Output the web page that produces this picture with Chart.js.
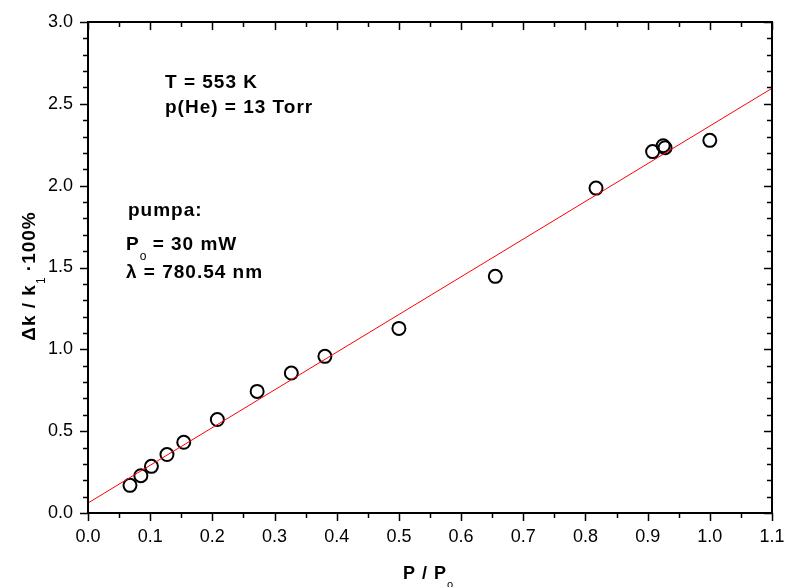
<!DOCTYPE html>
<html lang="en">
<head>
  <meta charset="UTF-8">
  <title>Δk / k1 vs P / Po</title>
  <script src="https://cdn.jsdelivr.net/npm/chart.js"></script>
  <style>
    body { margin: 0; background: #fff; }
  </style>
</head>
<body>
  <canvas id="pumpChart" width="785" height="587"></canvas>
  <script>
    // measured points: relative pump power and Δk/k1·100%
    const ratio = [0.0675, 0.085, 0.102, 0.127, 0.154, 0.208, 0.272, 0.327, 0.381, 0.5, 0.655, 0.817, 0.908, 0.925, 0.928, 1.0];
    const dk = [0.169, 0.228, 0.285, 0.357, 0.432, 0.571, 0.743, 0.855, 0.957, 1.128, 1.446, 1.985, 2.208, 2.244, 2.232, 2.277];

    // ends of the linear fit
    const fitX = [0, 1.1];
    const fitY = [0.061, 2.595];

    const FONT = 'Arial, "Liberation Sans", sans-serif';

    // draws text with subscript parts, left aligned at baseline y, returns width
    function richText(ctx, x, y, parts, size, draw = true) {
      let cx = x;
      parts.forEach(([txt, sub]) => {
        ctx.font = sub ? `${Math.round(size * 0.62)}px ${FONT}` : `bold ${size}px ${FONT}`;
        ctx.letterSpacing = sub ? '0px' : '1px';
        if (draw) ctx.fillText(txt, cx, y + (sub ? size * 0.5 : 0));
        cx += ctx.measureText(txt).width;
      });
      ctx.letterSpacing = '0px';
      return cx - x;
    }

    const frame = {
      id: 'frame',
      afterDraw(chart) {
        const { ctx, chartArea: a, scales: { x, y } } = chart;
        ctx.save();
        ctx.strokeStyle = '#000';
        ctx.lineWidth = 1.5;
        ctx.beginPath();
        for (let i = 0; i <= 22; i++) {
          const px = Math.round(x.getPixelForValue(i * 0.05)) + 0.5;
          const len = i % 2 === 0 ? 8 : 5;
          ctx.moveTo(px, a.bottom); ctx.lineTo(px, a.bottom + len);
          ctx.moveTo(px, a.top); ctx.lineTo(px, a.top + len);
        }
        for (let i = 0; i <= 30; i++) {
          const py = Math.round(y.getPixelForValue(i * 0.1)) + 0.5;
          const len = i % 5 === 0 ? 8 : 5;
          ctx.moveTo(a.left, py); ctx.lineTo(a.left - len, py);
          ctx.moveTo(a.right, py); ctx.lineTo(a.right - len, py);
        }
        ctx.stroke();
        ctx.lineWidth = 2;
        ctx.strokeRect(a.left, a.top, a.right - a.left, a.bottom - a.top);

        ctx.fillStyle = '#000';
        ctx.textAlign = 'left';
        ctx.textBaseline = 'alphabetic';

        // x title
        const xt = [['P / P', false], ['o', true]];
        const xw = richText(ctx, 0, 0, xt, 18, false);
        richText(ctx, (a.left + a.right) / 2 - xw / 2 - 2, 579, xt, 18);

        // y title
        const yt = [['Δk / k', false], ['1', true], [' ·100%', false]];
        const yw = richText(ctx, 0, 0, yt, 19, false);
        ctx.save();
        ctx.translate(35, 276);
        ctx.rotate(-Math.PI / 2);
        richText(ctx, -yw / 2, 0, yt, 19);
        ctx.restore();

        // notes
        richText(ctx, a.left + 77, 88, [['T = 553 K', false]], 19);
        richText(ctx, a.left + 77, 113, [['p(He) = 13 Torr', false]], 19);
        richText(ctx, a.left + 40, 216, [['pumpa:', false]], 19);
        richText(ctx, a.left + 38, 250, [['P', false], ['o', true], [' = 30 mW', false]], 19);
        richText(ctx, a.left + 38, 278, [['λ = 780.54 nm', false]], 19);
        ctx.restore();
      }
    };

    const ctx = document.getElementById('pumpChart').getContext('2d');
    new Chart(ctx, {
      type: 'scatter',
      data: {
        datasets: [
          {
            type: 'line',
            data: fitX.map((v, i) => ({ x: v, y: fitY[i] })),
            borderColor: '#ff0000',
            borderWidth: 1,
            pointRadius: 0,
            fill: false
          },
          {
            data: ratio.map((v, i) => ({ x: v, y: dk[i] })),
            pointStyle: 'circle',
            pointRadius: 6.5,
            borderWidth: 2,
            borderColor: '#000',
            backgroundColor: 'rgba(0,0,0,0)'
          }
        ]
      },
      options: {
        responsive: false,
        animation: false,
        layout: { padding: { top: 22, right: 13, left: 0, bottom: 0 } },
        plugins: { legend: { display: false }, tooltip: { enabled: false } },
        scales: {
          x: {
            type: 'linear',
            min: 0, max: 1.1,
            afterFit: s => { s.height = 74; s.paddingLeft = 0; s.paddingRight = 0; },
            border: { display: false },
            grid: { drawOnChartArea: false, tickLength: 8, color: 'rgba(0,0,0,0)' },
            ticks: {
              stepSize: 0.1,
              padding: 5,
              color: '#000',
              font: { family: FONT, size: 18 },
              maxRotation: 0,
              callback: v => v.toFixed(1)
            }
          },
          y: {
            min: 0, max: 3,
            afterFit: s => { s.width = 88; s.paddingTop = 0; s.paddingBottom = 0; },
            border: { display: false },
            grid: { drawOnChartArea: false, tickLength: 8, color: 'rgba(0,0,0,0)' },
            ticks: {
              stepSize: 0.5,
              padding: 7,
              color: '#000',
              font: { family: FONT, size: 18 },
              callback: v => v.toFixed(1)
            }
          }
        }
      },
      plugins: [frame]
    });
  </script>
</body>
</html>
